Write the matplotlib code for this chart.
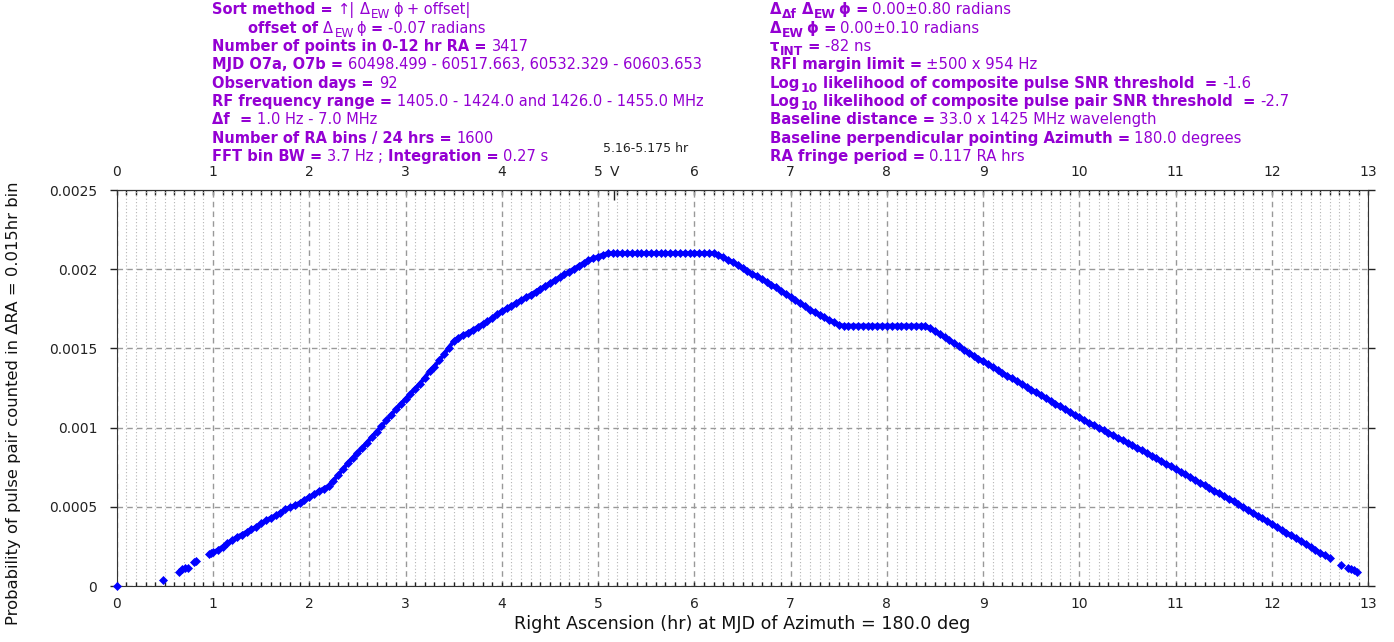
import matplotlib
matplotlib.use("Agg")
import matplotlib.pyplot as plt
from matplotlib.ticker import MultipleLocator

# ---------------------------------------------------------------------------
# Data: probability of a pulse pair falling in each RA bin
# ---------------------------------------------------------------------------
ra_hr = [
    0.00, 0.48, 0.65, 0.68, 0.71, 0.74, 0.80, 0.82, 0.96, 0.98,
    1.00, 1.05, 1.10, 1.15, 1.20, 1.25, 1.30, 1.35, 1.40, 1.45,
    1.50, 1.55, 1.60, 1.65, 1.70, 1.75, 1.80, 1.85, 1.90, 1.95,
    2.00, 2.05, 2.10, 2.15, 2.20, 2.25, 2.30, 2.35, 2.40, 2.45,
    2.50, 2.55, 2.60, 2.65, 2.70, 2.75, 2.80, 2.85, 2.90, 2.95,
    3.00, 3.05, 3.10, 3.15, 3.20, 3.25, 3.30, 3.35, 3.40, 3.45,
    3.50, 3.55, 3.60, 3.65, 3.70, 3.75, 3.80, 3.85, 3.90, 3.95,
    4.00, 4.05, 4.10, 4.15, 4.20, 4.25, 4.30, 4.35, 4.40, 4.45,
    4.50, 4.55, 4.60, 4.65, 4.70, 4.75, 4.80, 4.85, 4.90, 4.95,
    5.00, 5.05, 5.10, 5.15, 5.20, 5.25, 5.30, 5.35, 5.40, 5.45,
    5.50, 5.55, 5.60, 5.65, 5.70, 5.75, 5.80, 5.85, 5.90, 5.95,
    6.00, 6.05, 6.10, 6.15, 6.20, 6.25, 6.30, 6.35, 6.40, 6.45,
    6.50, 6.55, 6.60, 6.65, 6.70, 6.75, 6.80, 6.85, 6.90, 6.95,
    7.00, 7.05, 7.10, 7.15, 7.20, 7.25, 7.30, 7.35, 7.40, 7.45,
    7.50, 7.55, 7.60, 7.65, 7.70, 7.75, 7.80, 7.85, 7.90, 7.95,
    8.00, 8.05, 8.10, 8.15, 8.20, 8.25, 8.30, 8.35, 8.40, 8.45,
    8.50, 8.55, 8.60, 8.65, 8.70, 8.75, 8.80, 8.85, 8.90, 8.95,
    9.00, 9.05, 9.10, 9.15, 9.20, 9.25, 9.30, 9.35, 9.40, 9.45,
    9.50, 9.55, 9.60, 9.65, 9.70, 9.75, 9.80, 9.85, 9.90, 9.95,
    10.00, 10.05, 10.10, 10.15, 10.20, 10.25, 10.30, 10.35, 10.40, 10.45,
    10.50, 10.55, 10.60, 10.65, 10.70, 10.75, 10.80, 10.85, 10.90, 10.95,
    11.00, 11.05, 11.10, 11.15, 11.20, 11.25, 11.30, 11.35, 11.40, 11.45,
    11.50, 11.55, 11.60, 11.65, 11.70, 11.75, 11.80, 11.85, 11.90, 11.95,
    12.00, 12.05, 12.10, 12.15, 12.20, 12.25, 12.30, 12.35, 12.40, 12.45,
    12.50, 12.55, 12.60, 12.72, 12.79, 12.82, 12.85, 12.88,
]

pair_prob = [
    0.0, 0.000038, 0.000090, 0.000105, 0.000112, 0.000115, 0.000152, 0.000160, 0.000200, 0.000206,
    0.000212, 0.000228, 0.000248, 0.000270, 0.000290, 0.000310, 0.000325, 0.000342, 0.000357, 0.000374,
    0.000395, 0.000414, 0.000430, 0.000446, 0.000463, 0.000484, 0.000496, 0.000510, 0.000525, 0.000545,
    0.000562, 0.000580, 0.000600, 0.000615, 0.000632, 0.000665, 0.000700, 0.000738, 0.000775, 0.000808,
    0.000840, 0.000870, 0.000905, 0.000940, 0.000975, 0.001008, 0.001045, 0.001080, 0.001115, 0.001148,
    0.001180, 0.001212, 0.001245, 0.001278, 0.001315, 0.001355, 0.001385, 0.001425, 0.001462, 0.001505,
    0.001545, 0.001568, 0.001585, 0.001600, 0.001618, 0.001635, 0.001655, 0.001672, 0.001690, 0.001715,
    0.001735, 0.001752, 0.001770, 0.001788, 0.001805, 0.001822, 0.001840, 0.001858, 0.001876, 0.001894,
    0.001912, 0.001932, 0.001950, 0.001968, 0.001985, 0.002003, 0.002022, 0.002040, 0.002055, 0.002068,
    0.002080, 0.002092, 0.002100, 0.002100, 0.002100, 0.002100, 0.002100, 0.002100, 0.002100, 0.002100,
    0.002100, 0.002100, 0.002100, 0.002100, 0.002100, 0.002100, 0.002100, 0.002100, 0.002100, 0.002100,
    0.002100, 0.002100, 0.002100, 0.002100, 0.002100, 0.002092, 0.002075, 0.002058, 0.002043, 0.002025,
    0.002008, 0.001990, 0.001972, 0.001955, 0.001938, 0.001920, 0.001902, 0.001885, 0.001865, 0.001845,
    0.001826, 0.001805, 0.001785, 0.001765, 0.001745, 0.001727, 0.001712, 0.001697, 0.001680, 0.001665,
    0.001648, 0.001643, 0.001643, 0.001643, 0.001643, 0.001643, 0.001643, 0.001643, 0.001643, 0.001643,
    0.001643, 0.001643, 0.001643, 0.001643, 0.001643, 0.001643, 0.001643, 0.001643, 0.001643, 0.001626,
    0.001608, 0.001590, 0.001570, 0.001550, 0.001532, 0.001512, 0.001493, 0.001474, 0.001455, 0.001436,
    0.001418, 0.001400, 0.001382, 0.001364, 0.001346, 0.001328, 0.001310, 0.001292, 0.001275, 0.001257,
    0.001240, 0.001222, 0.001204, 0.001187, 0.001170, 0.001152, 0.001134, 0.001116, 0.001099, 0.001081,
    0.001064, 0.001047, 0.001031, 0.001015, 0.000999, 0.000983, 0.000967, 0.000951, 0.000935, 0.000919,
    0.000903, 0.000888, 0.000872, 0.000856, 0.000840, 0.000823, 0.000806, 0.000789, 0.000772, 0.000755,
    0.000738, 0.000721, 0.000704, 0.000687, 0.000670, 0.000653, 0.000636, 0.000619, 0.000602, 0.000585,
    0.000568, 0.000551, 0.000534, 0.000516, 0.000499, 0.000481, 0.000463, 0.000445, 0.000427, 0.000409,
    0.000391, 0.000373, 0.000355, 0.000337, 0.000319, 0.000301, 0.000283, 0.000265, 0.000247, 0.000229,
    0.000211, 0.000193, 0.000176, 0.000134, 0.000115, 0.000108, 0.000098, 0.000088,
]

y_ticks = [0.0, 0.0005, 0.001, 0.0015, 0.002, 0.0025]
y_tick_labels = ["0", "0.0005", "0.001", "0.0015", "0.002", "0.0025"]
x_ticks = list(range(0, 14))
x_tick_labels = [str(v) for v in x_ticks]
window_ra = 5.1675
window_label = "V"
window_text = "5.16-5.175 hr"

# Header annotation lines.  Each segment: (text, bold, subscript, gap_after_px)
B, N = True, False
SP = None  # default gap: one space
header_left = [
    [("Sort method =", B, 0, SP), ("↑|", N, 0, SP), ("Δ", N, 0, 1.5), ("EW", N, 1, 2.5),
     ("ϕ", N, 0, SP), ("+ offset|", N, 0, SP)],
    [("offset of", B, 0, SP), ("Δ", N, 0, 1.5), ("EW", N, 1, 2.5), ("ϕ", N, 0, SP),
     ("=", B, 0, SP), ("-0.07 radians", N, 0, SP)],
    [("Number of points in 0-12 hr RA =", B, 0, SP), ("3417", N, 0, SP)],
    [("MJD O7a, O7b =", B, 0, SP), ("60498.499 - 60517.663, 60532.329 - 60603.653", N, 0, SP)],
    [("Observation days =", B, 0, SP), ("92", N, 0, SP)],
    [("RF frequency range =", B, 0, SP), ("1405.0 - 1424.0 and 1426.0 - 1455.0 MHz", N, 0, SP)],
    [("Δf  =", B, 0, SP), ("1.0 Hz - 7.0 MHz", N, 0, SP)],
    [("Number of RA bins / 24 hrs =", B, 0, SP), ("1600", N, 0, SP)],
    [("FFT bin BW =", B, 0, SP), ("3.7 Hz ;", N, 0, SP), ("Integration =", B, 0, SP),
     ("0.27 s", N, 0, SP)],
]
header_right = [
    [("Δ", B, 0, 1.0), ("Δf", B, 1, SP), ("Δ", B, 0, 1.0), ("EW", B, 1, 2.5), ("ϕ", B, 0, SP),
     ("=", B, 0, SP), ("0.00±0.80 radians", N, 0, SP)],
    [("Δ", B, 0, 1.0), ("EW", B, 1, 2.5), ("ϕ", B, 0, SP), ("=", B, 0, SP),
     ("0.00±0.10 radians", N, 0, SP)],
    [("τ", B, 0, 1.0), ("INT", B, 1, SP), ("=", B, 0, SP), ("-82 ns", N, 0, SP)],
    [("RFI margin limit =", B, 0, SP), ("±500 x 954 Hz", N, 0, SP)],
    [("Log", B, 0, 1.0), ("10", B, 1, SP), ("likelihood of composite pulse SNR threshold  =", B, 0, SP),
     ("-1.6", N, 0, SP)],
    [("Log", B, 0, 1.0), ("10", B, 1, SP),
     ("likelihood of composite pulse pair SNR threshold  =", B, 0, SP), ("-2.7", N, 0, SP)],
    [("Baseline distance =", B, 0, SP), ("33.0 x 1425 MHz wavelength", N, 0, SP)],
    [("Baseline perpendicular pointing Azimuth =", B, 0, SP), ("180.0 degrees", N, 0, SP)],
    [("RA fringe period =", B, 0, SP), ("0.117 RA hrs", N, 0, SP)],
]

x_label = "Right Ascension (hr) at MJD of Azimuth = 180.0 deg"
y_label = "Probability of pulse pair counted in ΔRA = 0.015hr bin"

# ---------------------------------------------------------------------------
# Figure
# ---------------------------------------------------------------------------
W, H = 1394, 642
PURPLE = "#9400D3"
plt.rcParams["font.family"] = ["DejaVu Sans"]

fig = plt.figure(figsize=(W / 100, H / 100), dpi=100)
ax_l, ax_r, ax_t, ax_b = 116.7, 1368.3, 190.0, 586.0
ax = fig.add_axes([ax_l / W, 1 - ax_b / H, (ax_r - ax_l) / W, (ax_b - ax_t) / H])

# Dense runs of bins are drawn as a continuous band, every bin as a marker
runs, cur = [], [0]
for i in range(1, len(ra_hr)):
    if ra_hr[i] - ra_hr[i - 1] <= 0.0501:
        cur.append(i)
    else:
        runs.append(cur)
        cur = [i]
runs.append(cur)
for r in runs:
    if len(r) > 3:
        ax.plot([ra_hr[i] for i in r], [pair_prob[i] for i in r], "-",
                color="#0000ff", linewidth=3.0, solid_capstyle="round", zorder=3)
ax.plot(ra_hr, pair_prob, linestyle="none", marker="D", markersize=3.8,
        color="#0000ff", markeredgewidth=0.5, clip_on=False, zorder=4)

ax.set_xlim(0, 13)
ax.set_ylim(0, 0.0025)
ax.set_xticks(x_ticks, labels=x_tick_labels)
ax.xaxis.set_minor_locator(MultipleLocator(0.1))
ax.set_yticks(y_ticks, labels=y_tick_labels)

ax.grid(True, which="major", axis="both", linestyle=(0, (4, 3)),
        color="#999999", linewidth=1.0)
ax.grid(True, which="minor", axis="x", linestyle=(0, (1, 2)),
        color="#b5b5b5", linewidth=0.8)
ax.set_axisbelow(True)

ax.tick_params(axis="x", which="both", direction="in", length=3, width=1,
               pad=8, labelsize=10, colors="#222222")
ax.tick_params(axis="y", which="major", direction="out", length=5, width=1,
               pad=9, labelsize=10, colors="#222222", right=True)
for s in ax.spines.values():
    s.set_color("#333333")

# Top RA axis with the marked window
top = ax.secondary_xaxis("top")
top.set_xticks(x_ticks + [window_ra], labels=x_tick_labels + [window_label])
top.xaxis.set_minor_locator(MultipleLocator(0.1))
top.tick_params(axis="x", which="both", direction="in", length=3.5, width=1,
                pad=8, labelsize=10, colors="#222222")
top.spines["top"].set_color("#333333")
vtick = top.xaxis.get_major_ticks()[-1]
vtick.tick2line.set_markersize(7)
vtick.tick1line.set_markersize(7)

fig.text(646 / W, 1 - 149 / H, window_text, fontsize=9, color="#222222",
         ha="center", va="center")

fig.text(742 / W, 1 - 624 / H, x_label, fontsize=12.6, color="#111111",
         ha="center", va="center")
fig.text(14 / W, 1 - 403 / H, y_label, fontsize=11.8, color="#111111",
         rotation=90, ha="center", va="center")

# Header blocks with mixed bold / regular segments and hand-set subscripts
renderer = fig.canvas.get_renderer()


def header_line(x_px, base_px, parts, fs):
    space = 0.318 * fs * 100 / 72
    x = x_px
    for text, bold, sub, gap in parts:
        size = fs * (0.82 if sub else 1.0)
        base = base_px + (4.0 if sub else 0.0)
        t = fig.text(x / W, 1 - base / H, text, fontsize=size, color=PURPLE,
                     fontweight="bold" if bold else "normal",
                     ha="left", va="baseline")
        x = t.get_window_extent(renderer).x1 + (space if gap is None else gap)


LINE0, LINE_STEP = 14.2, 18.34
for i, parts in enumerate(header_left):
    header_line(248.5 if i == 1 else 212.5, LINE0 + i * LINE_STEP, parts, 10.5)
for i, parts in enumerate(header_right):
    header_line(769.5, LINE0 + i * LINE_STEP, parts, 10.75)

fig.savefig("out.png", dpi=100)
